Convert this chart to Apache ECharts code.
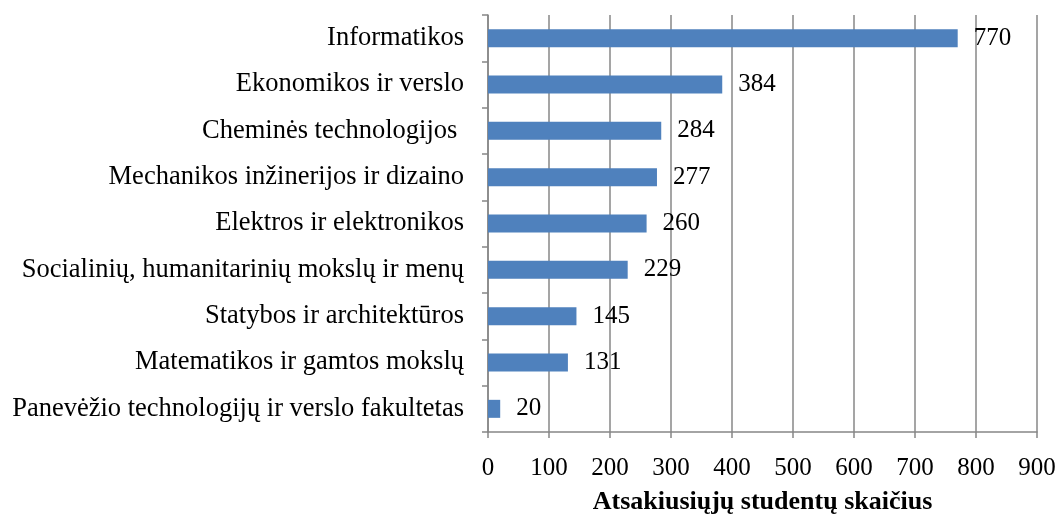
<!DOCTYPE html>
<html>
<head>
<meta charset="utf-8">
<script src="https://cdn.jsdelivr.net/npm/echarts@6/dist/echarts.min.js"></script>
<style>
  html, body { margin: 0; padding: 0; background: #fff; }
  #main { width: 1061px; height: 516px; }
</style>
</head>
<body>
<div id="main"></div>
<script>
// duomenys
var categories = [
  'Informatikos',
  'Ekonomikos ir verslo',
  'Cheminės technologijos ',
  'Mechanikos inžinerijos ir dizaino',
  'Elektros ir elektronikos',
  'Socialinių, humanitarinių mokslų ir menų',
  'Statybos ir architektūros',
  'Matematikos ir gamtos mokslų',
  'Panevėžio technologijų ir verslo fakultetas'
];
var values = [770, 384, 284, 277, 260, 229, 145, 131, 20];
var xTicks = [0, 900, 100]; // min, max, interval

var font = '"Liberation Serif", "Times New Roman", serif';
var gridColor = '#878787';

var chart = echarts.init(document.getElementById('main'));
chart.setOption({
  animation: false,
  grid: { left: 488, right: 24, top: 15, bottom: 84, containLabel: false, outerBoundsMode: 'none' },
  xAxis: {
    type: 'value',
    min: xTicks[0],
    max: xTicks[1],
    interval: xTicks[2],
    name: 'Atsakiusiųjų studentų skaičius',
    nameLocation: 'middle',
    nameGap: 57,
    nameTextStyle: { fontFamily: font, fontSize: 26, fontWeight: 'bold', color: '#000' },
    axisLine: { show: true, lineStyle: { color: gridColor, width: 1.5 } },
    axisTick: { show: true, length: 6, lineStyle: { color: gridColor, width: 1.5 } },
    axisLabel: { fontFamily: font, fontSize: 25, color: '#000', margin: 24 },
    splitLine: { show: true, lineStyle: { color: gridColor, width: 1.5 } }
  },
  yAxis: {
    type: 'category',
    data: categories,
    inverse: true,
    axisLine: { show: true, lineStyle: { color: gridColor, width: 1.5 } },
    axisTick: { show: true, length: 6, lineStyle: { color: gridColor, width: 1.5 } },
    axisLabel: { fontFamily: font, fontSize: 26.5, color: '#000', margin: 24, padding: [4, 0, 0, 0] }
  },
  series: [{
    type: 'bar',
    data: values,
    barWidth: 18,
    itemStyle: { color: '#4F81BD' },
    label: {
      show: true,
      position: 'right',
      distance: 16,
      fontFamily: font,
      fontSize: 25,
      color: '#000',
      padding: [4, 0, 0, 0]
    }
  }]
});
</script>
</body>
</html>
